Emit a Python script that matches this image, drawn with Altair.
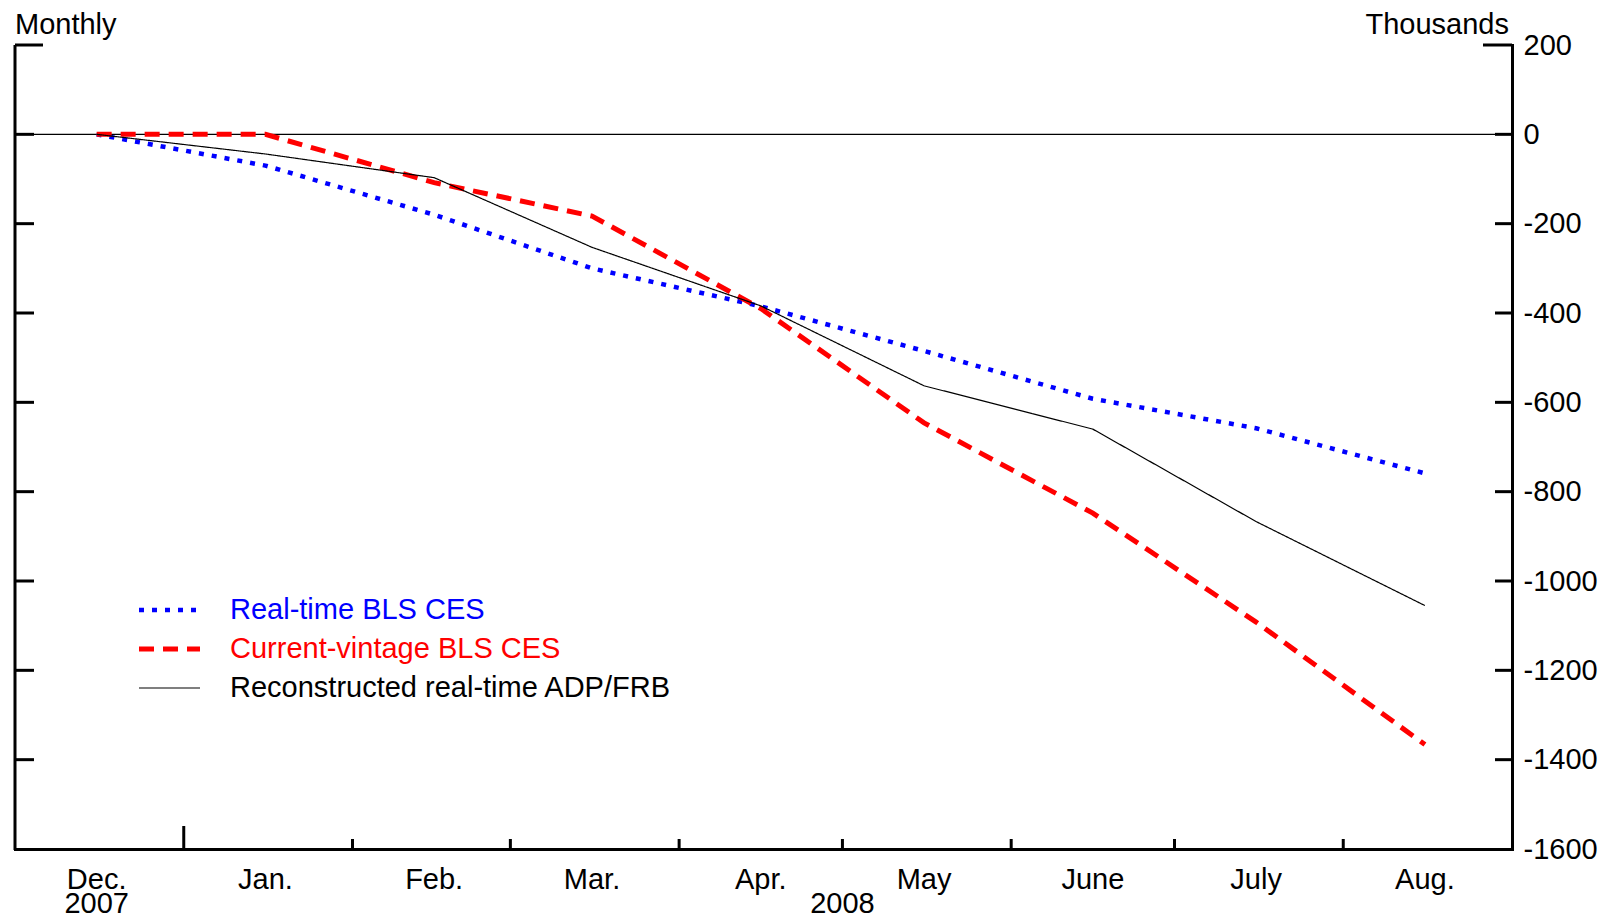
import altair as alt
import pandas as pd

# ---- data ----
months = ["2007-12-16", "2008-01-16", "2008-02-16", "2008-03-16", "2008-04-16",
          "2008-05-16", "2008-06-16", "2008-07-16", "2008-08-16"]
month_labels = ["Dec.|2007", "Jan.", "Feb.", "Mar.", "Apr.", "May", "June", "July", "Aug."]
realtime_ces = [0, -70, -180, -300, -385, -485, -592, -658, -759]
current_ces = [0, 0, -108, -183, -390, -646, -848, -1092, -1366]
adp_frb = [0, -44, -97, -253, -384, -563, -660, -867, -1055]
series_names = ["Real-time BLS CES", "Current-vintage BLS CES", "Reconstructed real-time ADP/FRB"]
series_colors = ["#0000ff", "#ff0000", "#000000"]
y_ticks = [-1600, -1400, -1200, -1000, -800, -600, -400, -200, 0, 200]
month_starts = ["2008-01-01", "2008-02-01", "2008-03-01", "2008-04-01",
                "2008-05-01", "2008-06-01", "2008-07-01", "2008-08-01"]
year_2008 = [("2008-05-01", "2008")]

W, H = 1497, 804
FONT = "Liberation Sans"
FS = 29

series_dash = [[5, 8], [15, 9], [1, 0]]
series_width = [4.5, 5, 1.2]

xs = alt.Scale(type="utc",
               domain=[alt.DateTime(year=2007, month=12, date=1, utc=True),
                       alt.DateTime(year=2008, month=9, date=1, utc=True)])
ys = alt.Scale(domain=[-1600, 200], nice=False, zero=False)
xaxis = alt.Axis(domainWidth=3, domainColor="black", ticks=False, labels=False,
                 grid=False, title=None, domainCap="square")
yaxis = alt.Axis(orient="right", domainWidth=3, domainColor="black", ticks=False,
                 labelPadding=11, labelFontSize=FS, labelFont=FONT, labelColor="black",
                 labelExpr="'' + datum.value", values=y_ticks, grid=False, title=None,
                 domainCap="square", labelFlush=False, labelOverlap=False)


def X(field):
    return alt.X(field, type="temporal", scale=xs, axis=xaxis)


def Y(field):
    return alt.Y(field, type="quantitative", scale=ys, axis=yaxis)


line_layers = []
for name, vals, col, dsh, sw in zip(series_names, [realtime_ces, current_ces, adp_frb],
                                    series_colors, series_dash, series_width):
    sdf = pd.DataFrame({"date": months, "value": vals})
    line_layers.append(alt.Chart(sdf).mark_line(color=col, strokeDash=dsh, strokeWidth=sw,
                                                strokeCap="butt").encode(
        x=X("date"), y=Y("value")))

tick_df = pd.DataFrame({"v": [t for t in y_ticks if t not in (200, -1600)]})
top_df = pd.DataFrame({"v": [200]})
zero_df = pd.DataFrame({"v": [0]})

zero_line = alt.Chart(zero_df).mark_rule(color="black", strokeWidth=1.3).encode(
    y=Y("v"), x=alt.value(0), x2=alt.value(W))
left_ticks = alt.Chart(tick_df).mark_rule(color="black", strokeWidth=3).encode(
    y=Y("v"), x=alt.value(0), x2=alt.value(19))
right_ticks = alt.Chart(tick_df).mark_rule(color="black", strokeWidth=3).encode(
    y=Y("v"), x=alt.value(W - 17), x2=alt.value(W))
left_top = alt.Chart(top_df).mark_rule(color="black", strokeWidth=3).encode(
    y=Y("v"), x=alt.value(0), x2=alt.value(28))
right_top = alt.Chart(top_df).mark_rule(color="black", strokeWidth=3).encode(
    y=Y("v"), x=alt.value(W - 29), x2=alt.value(W))
left_domain = alt.Chart(top_df).mark_rule(color="black", strokeWidth=3).encode(
    x=alt.value(0), y=alt.value(0), y2=alt.value(H + 1))

ms_df = pd.DataFrame({"d": month_starts})
bottom_ticks_long = alt.Chart(ms_df.iloc[:1]).mark_rule(color="black", strokeWidth=3).encode(
    x=X("d"), y=alt.value(H), y2=alt.value(H - 23))
bottom_ticks = alt.Chart(ms_df.iloc[1:]).mark_rule(color="black", strokeWidth=3).encode(
    x=X("d"), y=alt.value(H), y2=alt.value(H - 10))

mlab_df = pd.DataFrame({"d": months, "t": month_labels})
month_text = alt.Chart(mlab_df).mark_text(font=FONT, fontSize=FS, color="black",
                                          baseline="alphabetic", align="center",
                                          lineBreak="|", lineHeight=24).encode(
    x=X("d"), y=alt.value(H + 40), text="t:N")
ylab_df = pd.DataFrame({"d": [a for a, b in year_2008], "t": [b for a, b in year_2008]})
year_text = alt.Chart(ylab_df).mark_text(font=FONT, fontSize=FS, color="black",
                                         baseline="alphabetic", align="center").encode(
    x=X("d"), y=alt.value(H + 64), text="t:N")

monthly = alt.Chart(pd.DataFrame({"t": ["Monthly"]})).mark_text(
    font=FONT, fontSize=FS, color="black", align="left", baseline="middle").encode(
    x=alt.value(0), y=alt.value(-20), text="t:N")
thousands = alt.Chart(pd.DataFrame({"t": ["Thousands"]})).mark_text(
    font=FONT, fontSize=FS, color="black", align="right", baseline="middle").encode(
    x=alt.value(W - 3), y=alt.value(-20), text="t:N")

# legend
leg_layers = []
leg_y = [565, 604, 643]
for name, col, yy, dsh, sw in zip(series_names, series_colors, leg_y, series_dash, series_width):
    ldf = pd.DataFrame({"t": [name]})
    leg_layers.append(alt.Chart(ldf).mark_rule(color=col, strokeWidth=sw, strokeDash=dsh,
                                                strokeCap="butt").encode(
        x=alt.value(124), x2=alt.value(185), y=alt.value(yy)))
    leg_layers.append(alt.Chart(ldf).mark_text(font=FONT, fontSize=FS, color=col,
                                               align="left", baseline="middle").encode(
        x=alt.value(215), y=alt.value(yy), text="t:N"))

chart = alt.layer(
    zero_line, *line_layers, left_ticks, right_ticks, left_top, right_top, left_domain,
    bottom_ticks_long, bottom_ticks, month_text, year_text, monthly, thousands,
    *leg_layers
).properties(
    width=W, height=H,
    autosize=alt.AutoSizeParams(type="none"),
    padding={"left": 7, "top": 37, "right": 90, "bottom": 68},
    background="white",
).configure_view(stroke=None)

chart.save("out.html", embed_options={"renderer": "svg", "actions": False})
